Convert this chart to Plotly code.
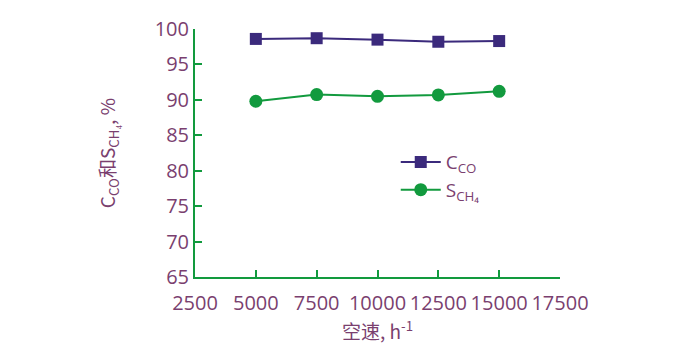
import plotly.graph_objects as go

space_velocity = [5000, 7500, 10000, 12500, 15000]
c_co = [98.6, 98.7, 98.5, 98.2, 98.3]
s_ch4 = [89.8, 90.75, 90.5, 90.7, 91.2]
x_ticks = [2500, 5000, 7500, 10000, 12500, 15000, 17500]
x_tick_labels = [str(v) for v in x_ticks]
y_ticks = [65, 70, 75, 80, 85, 90, 95, 100]
y_tick_labels = [str(v) for v in y_ticks]

purple = "#3b2a7c"
green = "#129a3e"
text_c = "#7a3f6f"

fig = go.Figure()
fig.add_trace(go.Scatter(x=space_velocity, y=c_co, mode="lines+markers",
                         name="C<sub>CO</sub>",
                         line=dict(color=purple, width=2),
                         marker=dict(symbol="square", size=12, color=purple)))
fig.add_trace(go.Scatter(x=space_velocity, y=s_ch4, mode="lines+markers",
                         name="S<sub>CH₄</sub>",
                         line=dict(color=green, width=2),
                         marker=dict(symbol="circle", size=13, color=green)))

fig.update_layout(
    width=685, height=344,
    margin=dict(l=195, r=125, t=29, b=67),
    paper_bgcolor="white", plot_bgcolor="white",
    font=dict(family="Open Sans", size=20, color=text_c),
    showlegend=True,
    legend=dict(x=0.55, y=0.54, xanchor="left", yanchor="top",
                bgcolor="rgba(0,0,0,0)", font=dict(size=19, color=text_c),
                itemwidth=40, tracegroupgap=0),
    xaxis=dict(range=[2500, 17500], tickvals=x_ticks, ticktext=x_tick_labels,
               showline=True, linecolor=green, linewidth=2, automargin=False,
               ticks="inside", tickcolor=green, ticklen=7, tickwidth=1.5,
               showgrid=False, zeroline=False, ticklabelstandoff=7,
               tickfont=dict(size=20, color=text_c),
               title=dict(text="空速, h<sup>-1</sup>",
                          font=dict(family="Noto Sans CJK SC", size=19, color=text_c),
                          standoff=10)),
    yaxis=dict(range=[65, 100], tickvals=y_ticks, ticktext=y_tick_labels,
               showline=True, linecolor=green, linewidth=2, automargin=False,
               ticks="inside", tickcolor=green, ticklen=7, tickwidth=1.5,
               showgrid=False, zeroline=False,
               tickfont=dict(size=20, color=text_c),
               title=dict(text="C<sub>CO</sub>和S<sub>CH₄</sub>, %",
                          font=dict(family="Noto Sans CJK SC", size=19, color=text_c),
                          standoff=34)),
)

fig.write_html("out.html")
